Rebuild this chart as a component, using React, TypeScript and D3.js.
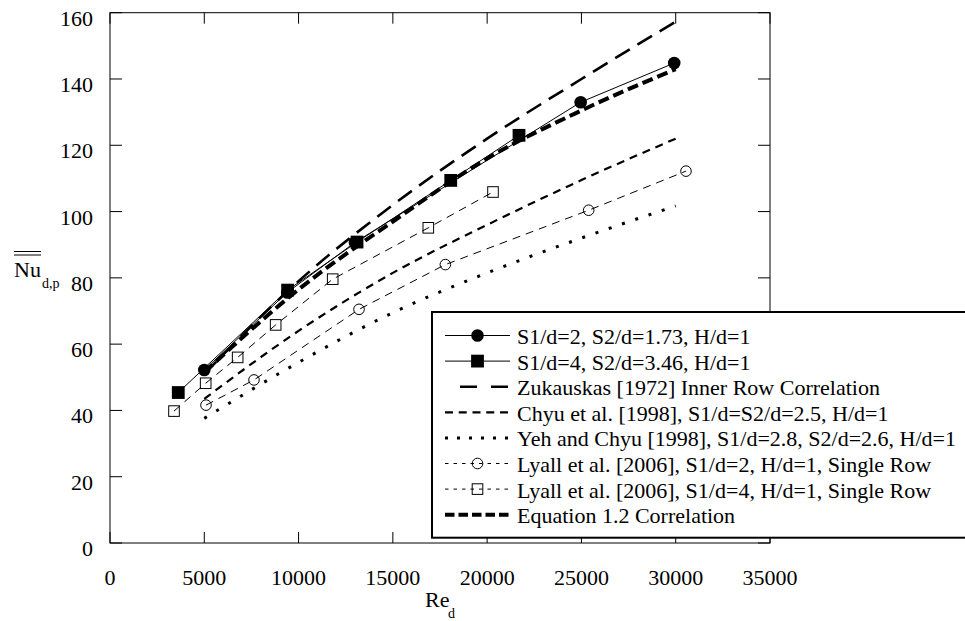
import React, { useEffect } from 'react';
import * as d3 from 'd3';

// ---- data ----
const xTicks = [0, 5000, 10000, 15000, 20000, 25000, 30000, 35000];
const yTicks = [0, 20, 40, 60, 80, 100, 120, 140, 160];

const s1X = [5000, 9400, 12990, 24960, 29920];
const s1Y = [52.2, 75.6, 90.7, 133.0, 144.8];

const s2X = [3620, 9420, 13100, 18070, 21690];
const s2Y = [45.4, 76.3, 90.8, 109.4, 123.0];

const zukX = [5000, 10000, 15000, 20000, 25000, 30000];
const zukY = [51, 79, 102, 122, 140, 157.3];

const chyuX = [5000, 10000, 15000, 20000, 25000, 30000];
const chyuY = [43.5, 64, 81.5, 96, 109.5, 122];

const yehX = [5000, 10000, 15000, 20000, 25000, 30000];
const yehY = [37.6, 54.5, 69.5, 81.5, 92, 101.7];

const lyall2X = [5091, 7636, 13205, 17784, 25384, 30545];
const lyall2Y = [41.6, 49.2, 70.5, 84.0, 100.4, 112.2];

const lyall4X = [3394, 5073, 6770, 8785, 11810, 16880, 20311];
const lyall4Y = [39.8, 48.2, 56.0, 65.8, 79.6, 95.1, 105.9];

const eqX = [5000, 10000, 15000, 20000, 25000, 30000];
const eqY = [51.5, 76.5, 97, 116, 130.5, 143];

const legendLabels = [
  'S1/d=2, S2/d=1.73, H/d=1',
  'S1/d=4, S2/d=3.46, H/d=1',
  'Zukauskas [1972] Inner Row Correlation',
  'Chyu et al. [1998], S1/d=S2/d=2.5, H/d=1',
  'Yeh and Chyu [1998], S1/d=2.8, S2/d=2.6, H/d=1',
  'Lyall et al. [2006], S1/d=2, H/d=1, Single Row',
  'Lyall et al. [2006], S1/d=4, H/d=1, Single Row',
  'Equation 1.2 Correlation',
];

const FONT = "'Liberation Serif'";
const TS: React.CSSProperties = { fontFamily: FONT };

type Style = { width: number; dash?: string; legendDash?: string; legendStart?: number; legendEnd?: number; marker?: string };

const styles: Style[] = [
  { width: 1, marker: 'fcircle' },
  { width: 1, marker: 'fsquare' },
  { width: 2.6, dash: '17,9', legendDash: '17,14', legendStart: 460, legendEnd: 510 },
  { width: 2.2, dash: '8,6', legendDash: '8,5.75' },
  { width: 3, dash: '3,11', legendDash: '3,9' },
  { width: 1, dash: '8,6', legendDash: '3.5,5', marker: 'ocircle' },
  { width: 1, dash: '8,6', legendDash: '3.5,5', marker: 'osquare' },
  { width: 4, dash: '11,5', legendDash: '9.5,4' },
];

const x = d3.scaleLinear().domain([0, 35000]).range([110, 770]);
const y = d3.scaleLinear().domain([0, 160]).range([543, 12.7]);

function Marker({ kind, cx, cy }: { kind: string; cx: number; cy: number }) {
  if (kind === 'fcircle') return <circle cx={cx} cy={cy} r={6.3} fill="#000" />;
  if (kind === 'fsquare') return <rect x={cx - 6.4} y={cy - 6.4} width={12.8} height={12.8} fill="#000" />;
  if (kind === 'ocircle') return <circle cx={cx} cy={cy} r={5.3} fill="none" stroke="#000" strokeWidth={1} />;
  if (kind === 'osquare') return <rect x={cx - 5.3} y={cy - 5.3} width={10.6} height={10.6} fill="none" stroke="#000" strokeWidth={1} />;
  return null;
}

export default function App() {
  useEffect(() => {
    document.body.style.margin = '0';
  }, []);

  const series: [number[], number[], boolean][] = [
    [s1X, s1Y, false],
    [s2X, s2Y, false],
    [zukX, zukY, true],
    [chyuX, chyuY, true],
    [yehX, yehY, true],
    [lyall2X, lyall2Y, false],
    [lyall4X, lyall4Y, false],
    [eqX, eqY, true],
  ];

  const drawOrder = [4, 3, 6, 5, 2, 7, 1, 0];

  const pathFor = (xs: number[], ys: number[], smooth: boolean) => {
    const gen = d3
      .line<number>()
      .x((_, i) => x(xs[i]))
      .y((d) => y(d))
      .curve(smooth ? d3.curveMonotoneX : d3.curveLinear);
    return gen(ys) || '';
  };

  const L = 110, R = 770, T = 12.7, B = 543;
  const legendTop = 312, legendLeft = 432, legendBottom = 537.7;
  const baseline0 = 344, rowStep = 25.6;

  return (
    <div style={{ position: 'absolute', left: 0, top: 0 }}>
      <svg width={965} height={621} style={{ display: 'block', overflow: 'hidden', fontFamily: FONT }}>
        <rect x={0} y={0} width={965} height={621} fill="#fff" />
        {/* frame */}
        <rect x={L} y={T} width={R - L} height={B - T} fill="none" stroke="#000" strokeWidth={1} />
        {/* ticks */}
        {yTicks.map((t) => (
          <g key={'y' + t}>
            <line x1={L} x2={L + 12} y1={y(t)} y2={y(t)} stroke="#000" strokeWidth={1} />
            <line x1={R} x2={R - 12} y1={y(t)} y2={y(t)} stroke="#000" strokeWidth={1} />
            <text x={93} y={y(t) + 13} fontSize={22} textAnchor="end" fill="#000" style={TS}>{t}</text>
          </g>
        ))}
        {xTicks.map((t) => (
          <g key={'x' + t}>
            <line x1={x(t)} x2={x(t)} y1={B} y2={B - 11} stroke="#000" strokeWidth={1} />
            <line x1={x(t)} x2={x(t)} y1={T} y2={T + 11} stroke="#000" strokeWidth={1} />
            <text x={x(t)} y={585} fontSize={22} textAnchor="middle" fill="#000" style={TS}>{t}</text>
          </g>
        ))}
        {/* axis titles */}
        <text x={14} y={277.3} fontSize={22} fill="#000" style={TS}>Nu</text>
        <line x1={14} x2={41} y1={251.5} y2={251.5} stroke="#000" strokeWidth={1} />
        <line x1={14} x2={41} y1={255} y2={255} stroke="#000" strokeWidth={1} />
        <text x={42} y={287.7} fontSize={14} fill="#000" style={TS}>d,p</text>
        <text x={425} y={606.7} fontSize={22} fill="#000" style={TS}>Re</text>
        <text x={448} y={618} fontSize={14} fill="#000" style={TS}>d</text>

        {/* series */}
        {drawOrder.map((i) => {
          const [xs, ys, smooth] = series[i];
          const st = styles[i];
          return (
            <g key={'s' + i}>
              <path d={pathFor(xs, ys, smooth)} fill="none" stroke="#000" strokeWidth={st.width} strokeDasharray={st.dash} />
              {st.marker && xs.map((xv, j) => <Marker key={j} kind={st.marker!} cx={x(xv)} cy={y(ys[j])} />)}
            </g>
          );
        })}

        {/* legend */}
        <rect x={legendLeft} y={legendTop} width={600} height={legendBottom - legendTop} fill="#fff" stroke="#000" strokeWidth={2} />
        {legendLabels.map((lab, i) => {
          const st = styles[i];
          const base = baseline0 + rowStep * i;
          const ly = base - 8.5;
          const x1 = st.legendStart ?? 445;
          const x2 = st.legendEnd ?? 510;
          return (
            <g key={'l' + i}>
              <line x1={x1} x2={x2} y1={ly} y2={ly} stroke="#000" strokeWidth={st.width} strokeDasharray={st.legendDash} />
              {st.marker && <Marker kind={st.marker} cx={477.5} cy={ly} />}
              <text x={517} y={base} fontSize={22} fill="#000" style={TS}>{lab}</text>
            </g>
          );
        })}
      </svg>
    </div>
  );
}
